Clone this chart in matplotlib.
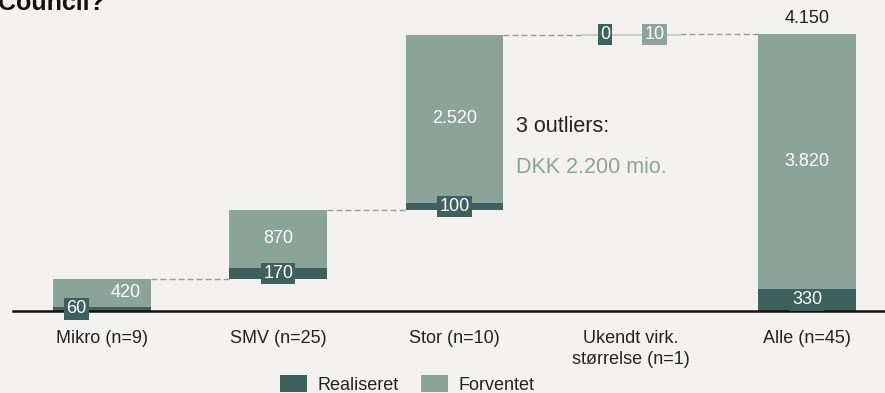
import numpy as np
import matplotlib
matplotlib.use("Agg")
import matplotlib.pyplot as plt
from matplotlib.patches import Patch

plt.rcParams["font.family"] = ["Liberation Sans", "DejaVu Sans"]

# Data
categories = ["Mikro (n=9)", "SMV (n=25)", "Stor (n=10)",
              "Ukendt virk.\nstørrelse (n=1)", "Alle (n=45)"]
realiseret = [60, 170, 100, 0, 330]
forventet = [420, 870, 2520, 10, 3820]
total_label = 4150
note_title = "3 outliers:"
note_text = "DKK 2.200 mio."
legend_labels = ["Realiseret", "Forventet"]

BG = "#f2f1ef"
DARK = "#3f615d"
LIGHT = "#8ba398"
TEXT = "#222222"
CONNECT = "#9a9a9a"


def fmt(v):
    return f"{v:,}".replace(",", ".")


W, H = 885, 393
fig = plt.figure(figsize=(W / 100, H / 100), dpi=100, facecolor=BG)
base_px = 311
left_px = 13
ax = fig.add_axes([left_px / W, (H - base_px) / H, 1 - left_px / W, base_px / H])
ax.set_facecolor(BG)

x = np.arange(len(categories))
step = 176.25
ax.set_xlim((left_px - 102) / step, (W - 102) / step)
px_per_unit = 0.06675
ax.set_ylim(0, base_px / px_per_unit)

width = 0.556
real = np.array(realiseret)
fcst = np.array(forventet)
seg_tot = real + fcst
# waterfall: each group stacks on the previous ones, last bar is the total
bottoms = np.array(np.concatenate([[0], np.cumsum(seg_tot[:-2])]).tolist() + [0])
tops = bottoms + seg_tot

ax.bar(x, real, width, bottom=bottoms, color=DARK, linewidth=0, zorder=2)
ax.bar(x, fcst, width, bottom=bottoms + real, color=LIGHT, linewidth=0, zorder=2)
# the thin bar in the unknown group, drawn lighter
ax.bar(x[3], fcst[3], width, bottom=bottoms[3] + real[3], color="#c4d0ca",
       linewidth=0.8, edgecolor="#c4d0ca", zorder=2)

# dashed connectors between consecutive bars
for i in range(len(x) - 1):
    ax.plot([x[i] + width / 2, x[i + 1] - width / 2], [tops[i], tops[i]],
            color=CONNECT, lw=1.0, linestyle=(0, (4.3, 2.2)), zorder=1)

fs = 13
box_pad = "square,pad=0.12"
for i in range(len(x)):
    small = seg_tot[i] < 600
    dx_r = -0.145 if small else 0.0
    dx_f = 0.135 if small else 0.0
    # realised value
    ax.text(x[i] + dx_r, bottoms[i] + real[i] / 2, fmt(real[i]), ha="center",
            va="center", color="white", fontsize=fs, zorder=4,
            bbox=dict(boxstyle=box_pad, fc=DARK, ec="none"))
    # expected value
    fb = dict(boxstyle=box_pad, fc=LIGHT, ec="none") if i == 3 else None
    ax.text(x[i] + dx_f, bottoms[i] + real[i] + fcst[i] / 2, fmt(fcst[i]),
            ha="center", va="center", color="white", fontsize=fs, zorder=4,
            bbox=fb)

ax.annotate(fmt(total_label), (x[4], tops[4]), xytext=(0, 11.5),
            textcoords="offset points", ha="center", va="center",
            color=TEXT, fontsize=fs)

ax.text((516 - 102) / step, 2757, note_title, ha="left", va="center",
        color=TEXT, fontsize=15.5)
ax.text((516 - 102) / step, 2157, note_text, ha="left", va="center",
        color=LIGHT, fontsize=15.5)

for s in ["top", "right", "left"]:
    ax.spines[s].set_visible(False)
ax.spines["bottom"].set_color("#111111")
ax.spines["bottom"].set_linewidth(1.8)
ax.set_yticks([])
ax.set_xticks(x)
ax.set_xticklabels(categories, fontsize=fs, color=TEXT, linespacing=1.3)
ax.tick_params(axis="x", length=0, pad=13.5)

fig.text(-0.002, 1 - 10 / H, "Council?", fontsize=18, fontweight="bold",
         color="#111111", ha="left", va="baseline")

handles = [Patch(facecolor=DARK, edgecolor="none"),
           Patch(facecolor=LIGHT, edgecolor="none")]
fig.legend(handles, legend_labels, loc="center left",
           bbox_to_anchor=(280 / W, 1 - 384.5 / H), ncol=2, frameon=False,
           fontsize=fs, handlelength=1.5, handleheight=1.05,
           handletextpad=0.6, columnspacing=1.2, borderpad=0,
           borderaxespad=0, labelcolor=TEXT)

fig.savefig("out.png", dpi=100, facecolor=BG)
